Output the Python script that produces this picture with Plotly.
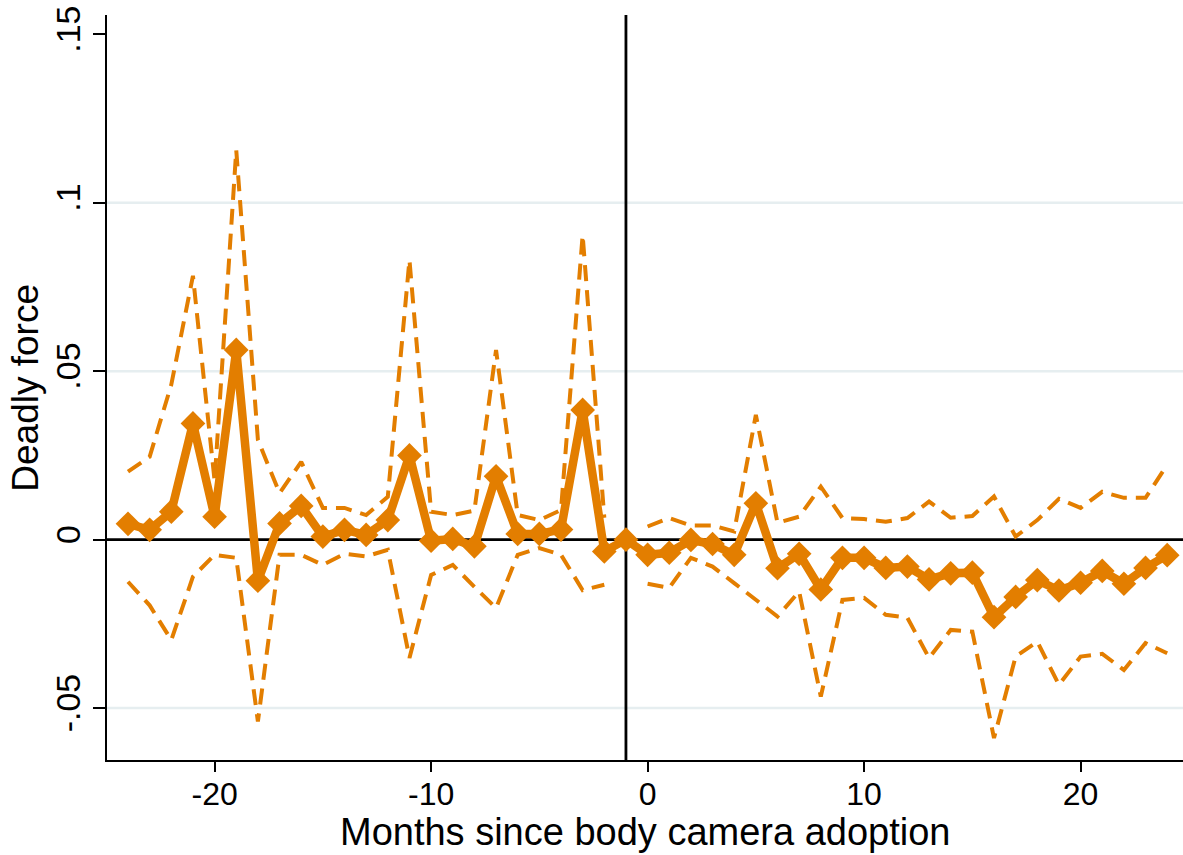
import plotly.graph_objects as go

# Event-time coefficients and 95% confidence bounds (month -1 is the omitted reference)
months = list(range(-24, 25))

coef = [
    0.0047, 0.0029, 0.0083, 0.0345, 0.0068, 0.0563, -0.0122, 0.0048,
    0.0100, 0.0009, 0.0029, 0.0014, 0.0058, 0.0250, -0.0003, 0.0002,
    -0.0020, 0.0188, 0.0017, 0.0017, 0.0030, 0.0385, -0.0035, 0.0,
    -0.0045, -0.0039, -0.0001, -0.0013, -0.0045, 0.0108, -0.0085, -0.0042,
    -0.0148, -0.0054, -0.0054, -0.0084, -0.0080, -0.0118, -0.0100, -0.0098,
    -0.0230, -0.0170, -0.0120, -0.0151, -0.0128, -0.0093, -0.0131, -0.0084,
    -0.0046,
]

ci_upper = [
    0.0202, 0.0246, 0.0460, 0.0783, 0.0175, 0.1156, 0.0296, 0.0138,
    0.0231, 0.0094, 0.0094, 0.0073, 0.0127, 0.0830, 0.0083, 0.0073,
    0.0086, 0.0563, 0.0073, 0.0058, 0.0088, 0.0904, 0.0065, None,
    0.0039, 0.0064, 0.0042, 0.0042, 0.0024, 0.0370, 0.0050, 0.0068,
    0.0157, 0.0064, 0.0061, 0.0053, 0.0064, 0.0113, 0.0065, 0.0070,
    0.0128, 0.0009, 0.0058, 0.0121, 0.0094, 0.0142, 0.0124, 0.0124,
    0.0222,
]

ci_lower = [
    -0.0125, -0.0195, -0.0298, -0.0110, -0.0045, -0.0054, -0.0540, -0.0045,
    -0.0045, -0.0075, -0.0042, -0.0050, -0.0030, -0.0351, -0.0105, -0.0075,
    -0.0140, -0.0203, -0.0045, -0.0025, -0.0045, -0.0150, -0.0134, None,
    -0.0131, -0.0143, -0.0054, -0.0080, -0.0129, -0.0179, -0.0228, -0.0154,
    -0.0466, -0.0179, -0.0173, -0.0223, -0.0232, -0.0351, -0.0268, -0.0273,
    -0.0589, -0.0347, -0.0303, -0.0431, -0.0347, -0.0339, -0.0387, -0.0307,
    -0.0337,
]

x_ticks = [-20, -10, 0, 10, 20]
y_ticks = [-0.05, 0, 0.05, 0.1, 0.15]
y_tick_text = ["-.05", "0", ".05", ".1", ".15"]
grid_values = [-0.05, 0.05, 0.1]

ORANGE = "#e37e00"
FONT = "Liberation Sans, Arial, Helvetica, sans-serif"

fig = go.Figure()

for bound in (ci_upper, ci_lower):
    fig.add_trace(go.Scatter(
        x=months, y=bound, mode="lines",
        line=dict(color=ORANGE, width=4, dash="16px,9px"),
        connectgaps=False, hoverinfo="skip", showlegend=False,
    ))

fig.add_trace(go.Scatter(
    x=months, y=coef, mode="lines+markers",
    line=dict(color=ORANGE, width=8.5),
    marker=dict(symbol="diamond", size=19, color=ORANGE),
    showlegend=False,
))

shapes = []
for g in grid_values:
    shapes.append(dict(type="line", xref="paper", x0=0, x1=1, yref="y", y0=g, y1=g,
                       line=dict(color="#e6eef0", width=2.5), layer="below"))
shapes.append(dict(type="line", xref="paper", x0=0, x1=1, yref="y", y0=0, y1=0,
                   line=dict(color="black", width=2.8), layer="between"))
shapes.append(dict(type="line", xref="x", x0=-1, x1=-1, yref="paper", y0=0, y1=1,
                   line=dict(color="black", width=2.8), layer="between"))

fig.update_layout(
    width=1183, height=855,
    margin=dict(l=107, r=0, t=15, b=95),
    paper_bgcolor="white", plot_bgcolor="white",
    font=dict(family=FONT, color="black", size=32),
    shapes=shapes,
    xaxis=dict(
        range=[-24.97, 24.73], tickvals=x_ticks, ticktext=[str(v) for v in x_ticks],
        showgrid=False, zeroline=False, showline=True, linecolor="black", linewidth=1.8,
        ticks="outside", ticklen=10, tickwidth=1.8, tickcolor="black",
        tickfont=dict(size=32, family=FONT), ticklabelstandoff=-5,
    ),
    yaxis=dict(
        range=[-0.0654, 0.1557], tickvals=y_ticks, ticktext=y_tick_text,
        tickangle=-90,
        showgrid=False, zeroline=False, showline=True, linecolor="black", linewidth=1.8,
        ticks="outside", ticklen=12, tickwidth=1.8, tickcolor="black",
        tickfont=dict(size=34, family=FONT),
    ),
    annotations=[
        dict(text="Months since body camera adoption", xref="paper", yref="paper",
             x=0.5, y=-0.096, xanchor="center", yanchor="middle", showarrow=False,
             font=dict(size=38, family=FONT)),
        dict(text="Deadly force", xref="paper", yref="paper",
             x=-0.076, y=0.5, xanchor="center", yanchor="middle", showarrow=False,
             textangle=-90, font=dict(size=37, family=FONT)),
    ],
)

fig.write_html("out.html")
